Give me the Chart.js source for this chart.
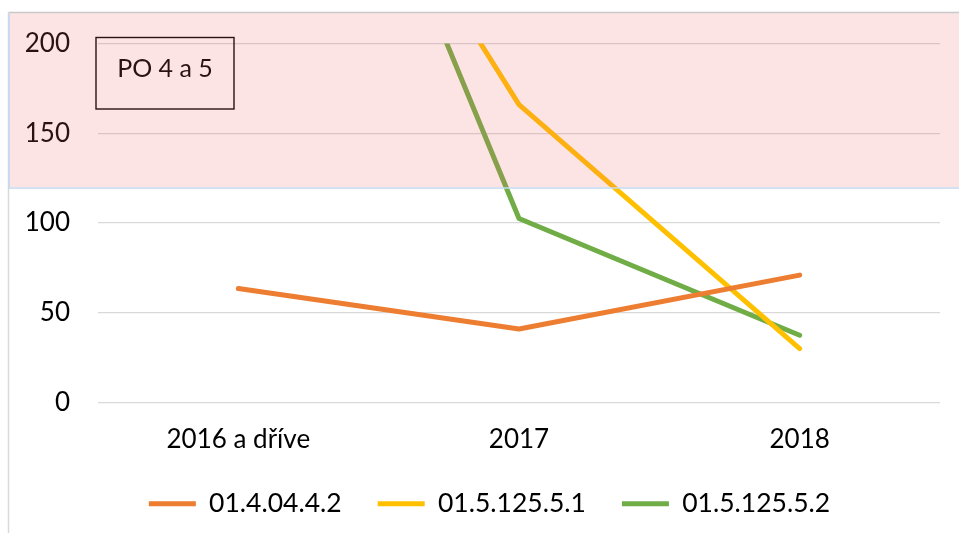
<!DOCTYPE html>
<html><head><meta charset="utf-8">
<script src="https://cdn.jsdelivr.net/npm/chart.js@4"></script>
<style>html,body{margin:0;padding:0;background:#fff}#wrap{width:959px;height:533px}</style>
</head><body><div id="wrap"><canvas id="c" width="959" height="533"></canvas></div>
<script>
const categories = ['2016 a dříve', '2017', '2018'];
const seriesNames = ['01.4.04.4.2', '01.5.125.5.1', '01.5.125.5.2'];
const values1 = [63.5, 41, 71];
const values2 = [415, 166, 30];
const values3 = [482, 102.5, 37.5];
const yTicks = [0, 50, 100, 150, 200];
const bandFrom = 120;
const boxLabel = 'PO 4 a 5';

const FONT = 'Lato';

const decor = {
  id: 'decor',
  beforeDraw(chart) {
    const ctx = chart.ctx;
    ctx.save();
    ctx.fillStyle = '#fff';
    ctx.fillRect(0, 0, chart.width, chart.height);
    ctx.lineWidth = 1.5;
    ctx.strokeStyle = '#c8c8c8';
    ctx.beginPath(); ctx.moveTo(8.5, 12.5); ctx.lineTo(chart.width, 12.5); ctx.stroke();
    ctx.strokeStyle = '#d9d9d9';
    ctx.beginPath(); ctx.moveTo(8.5, 12.5); ctx.lineTo(8.5, chart.height); ctx.stroke();
    ctx.restore();
  },
  afterDatasetsDraw(chart) {
    const ctx = chart.ctx;
    ctx.save();
    ctx.lineWidth = 1.4;
    ctx.strokeStyle = '#000';
    ctx.strokeRect(96, 37.5, 138, 71.5);
    ctx.fillStyle = '#000';
    ctx.font = '25px ' + FONT;
    ctx.textAlign = 'center';
    ctx.textBaseline = 'alphabetic';
    ctx.fillText(boxLabel, 165, 77);
    ctx.restore();
  },
  afterDraw(chart) {
    const ctx = chart.ctx;
    const y = chart.scales.y;
    const yb = y.getPixelForValue(bandFrom);
    ctx.save();
    ctx.fillStyle = 'rgba(243,100,100,0.175)';
    ctx.fillRect(9.3, 13.3, chart.width - 9.3, yb - 13.3);
    ctx.strokeStyle = '#c5d9f0';
    ctx.lineWidth = 1.6;
    ctx.beginPath();
    ctx.moveTo(9, 13.3); ctx.lineTo(9, yb + 0.8); ctx.lineTo(chart.width, yb + 0.8);
    ctx.stroke();
    ctx.restore();
  }
};

const mk = (label, data, color) => ({
  label, data,
  borderColor: color, backgroundColor: color,
  borderWidth: 5, pointRadius: 0, pointHoverRadius: 0,
  borderCapStyle: 'round', borderJoinStyle: 'round',
  tension: 0, fill: false, clip: 0
});

new Chart(document.getElementById('c'), {
  type: 'line',
  data: {
    labels: categories,
    datasets: [
      mk(seriesNames[0], values1, '#ED7D31'),
      mk(seriesNames[1], values2, '#FFC000'),
      mk(seriesNames[2], values3, '#70AD47')
    ]
  },
  options: {
    responsive: false,
    animation: false,
    devicePixelRatio: 1,
    layout: { padding: { left: 20, right: 0, top: 43, bottom: 6 } },
    plugins: {
      legend: {
        position: 'bottom',
        labels: {
          font: { family: FONT, size: 26.5 },
          color: '#000',
          usePointStyle: true,
          pointStyle: 'line',
          pointStyleWidth: 47,
          padding: 36
        }
      },
      tooltip: { enabled: false }
    },
    scales: {
      x: {
        offset: true,
        grid: { display: false, drawTicks: false },
        border: { display: false },
        ticks: { font: { family: FONT, size: 26 }, color: '#000', padding: 22, maxRotation: 0 },
        afterFit(s) { s.height = 52; }
      },
      y: {
        min: 0, max: 200,
        grid: { color: '#d9d9d9', lineWidth: 1.3, drawTicks: false },
        border: { display: false },
        ticks: { font: { family: FONT, size: 26 }, color: '#000', padding: 28 },
        afterBuildTicks(s) { s.ticks = yTicks.map(v => ({ value: v })); },
        afterFit(s) { s.width = 78; }
      },
      yR: {
        position: 'right',
        display: true,
        grid: { display: false, drawTicks: false },
        border: { display: false },
        ticks: { display: false },
        afterFit(s) { s.width = 19; }
      }
    }
  },
  plugins: [decor]
});
</script></body></html>
